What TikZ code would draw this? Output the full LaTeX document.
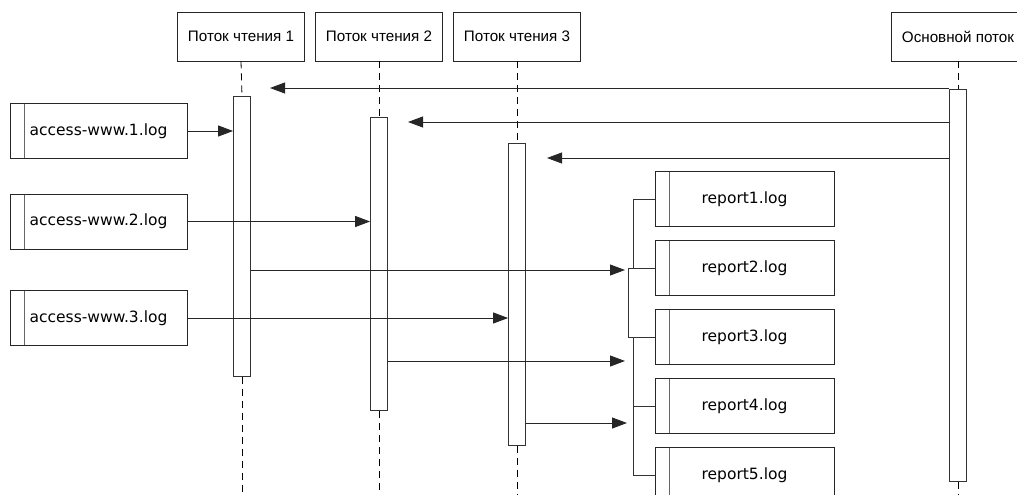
\documentclass[tikz,border=0pt]{standalone}
\usepackage{fontspec}
\usepackage{tikz}
\usetikzlibrary{arrows.meta}
\newfontfamily\headfont{Liberation Sans}
\newfontfamily\filefont{DejaVu Sans}

\tikzset{
  head/.style={draw=black!85, line width=0.8pt, minimum width=127pt, minimum height=49pt,
    inner sep=0pt, font=\headfont\fontsize{15.2}{18}\selectfont},
  filebox/.style={draw=black!85, line width=0.8pt, minimum width=177pt, minimum height=55pt,
    inner sep=0pt, font=\filefont\fontsize{15.5}{18}\selectfont,
    path picture={\draw[black!60, line width=0.8pt]
      ([xshift=14pt]path picture bounding box.north west) --
      ([xshift=14pt]path picture bounding box.south west);}},
  actbar/.style={draw=black!80, line width=0.8pt, minimum width=17pt, inner sep=0pt, anchor=north},
  lifeline/.style={draw=black, line width=0.8pt, dash pattern=on 7pt off 5pt},
  msg/.style={draw=black!85, line width=0.9pt, -{Triangle[length=15pt,width=11pt]}},
  link/.style={draw=black!80, line width=0.8pt}
}

\begin{document}
\begin{tikzpicture}[x=1pt,y=-1pt]
  \clip (0,0) rectangle (1017,495);
  \coordinate (bottom) at (0,500);

  % heads
  \node[head] (h1) at (241,36.5) {Поток чтения 1};
  \node[head] (h2) at (379,36.5) {Поток чтения 2};
  \node[head] (h3) at (517,36.5) {Поток чтения 3};
  \node[head, minimum width=134pt] (hm) at (958,36.5) {Основной поток};

  % activation bars
  \node[actbar, minimum height=280pt] (b1) at (242,96) {};
  \node[actbar, minimum height=293pt] (b2) at (379,117) {};
  \node[actbar, minimum height=302pt] (b3) at (517,143) {};
  \node[actbar, minimum height=392pt] (bm) at (958,89) {};

  % lifelines
  \foreach \n in {1,2,3,m}{
    \draw[lifeline] (h\n.south) -- (b\n.north);
    \draw[lifeline] (b\n.south) -- (b\n.south |- bottom);
  }

  % input files
  \node[filebox] (a1) at (98.5,131) {access-www.1.log};
  \node[filebox] (a2) at (98.5,221.5) {access-www.2.log};
  \node[filebox] (a3) at (98.5,318) {access-www.3.log};

  % output files
  \foreach \i in {1,...,5}
    \node[filebox, minimum width=179pt] (r\i) at (744.5,130+69*\i) {report\i.log};

  % main thread starts readers
  \coordinate (t1) at (270,88);
  \coordinate (t2) at (408,122);
  \coordinate (t3) at (547,158);
  \foreach \n in {1,2,3}
    \draw[msg] (bm.west |- t\n) -- (t\n);

  % reading
  \draw[msg] (a1.east) -- (a1.east -| b1.west);
  \draw[msg] (a2.east) -- (a2.east -| b2.west);
  \draw[msg] (a3.east) -- (a3.east -| b3.west);

  % writing
  \coordinate (w1) at (625,270);
  \coordinate (w2) at (625,361);
  \coordinate (w3) at (627,423);
  \draw[msg] (b1.east |- w1) -- (w1);
  \draw[msg] (b2.east |- w2) -- (w2);
  \draw[msg] (b3.east |- w3) -- (w3);

  % brackets
  \draw[link] (r1.west) -- ++(-21,0) |- (r2.west);
  \draw[link] (r2.west) -- ++(-26,0) |- (r3.west);
  \draw[link] (r3.west) ++(-21,0) |- (r5.west);
  \draw[link] (r4.west) -- ++(-21,0);
\end{tikzpicture}
\end{document}
